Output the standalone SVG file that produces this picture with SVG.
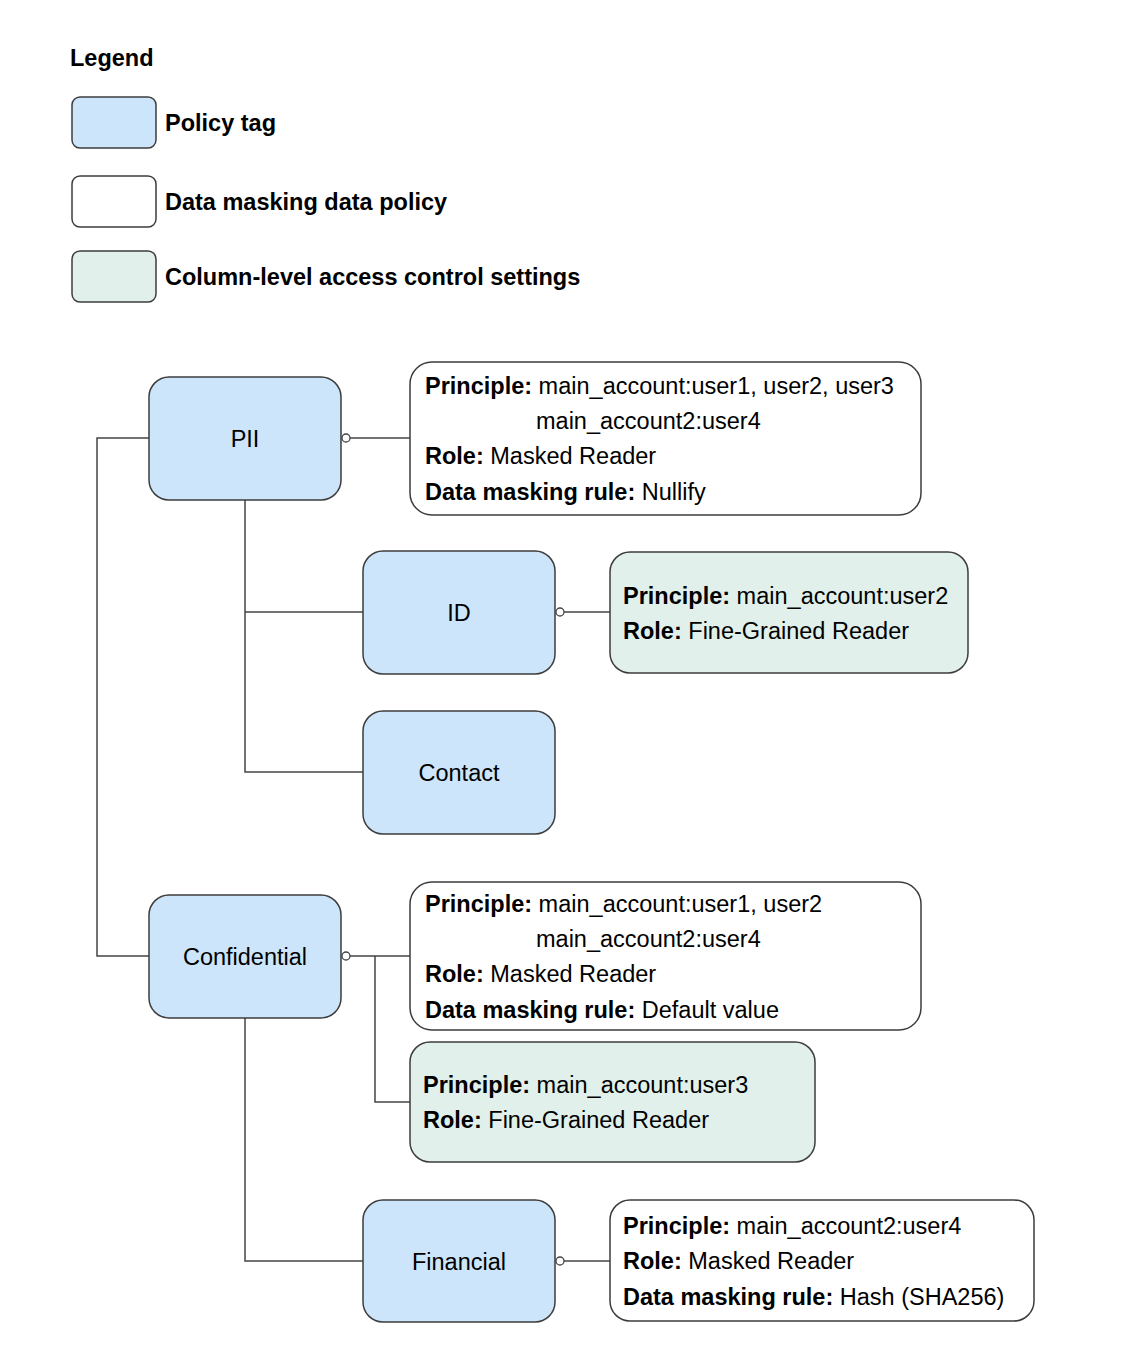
<svg xmlns="http://www.w3.org/2000/svg" width="1128" height="1370" viewBox="0 0 1128 1370">
<style>
text{font-family:"Liberation Sans",Arial,Helvetica,sans-serif;font-size:23.5px;fill:#000}
.b{font-weight:bold}
.c{text-anchor:middle}
.tag{fill:#cce5fb;stroke:#3d3d3d;stroke-width:1.5}
.pol{fill:#fff;stroke:#3d3d3d;stroke-width:1.5}
.cl{fill:#e1f0eb;stroke:#3d3d3d;stroke-width:1.5}
.ln{fill:none;stroke:#444;stroke-width:1.5}
.dot{fill:#fff;stroke:#444;stroke-width:1.3}
</style>
<rect width="1128" height="1370" fill="#fff"/>
<g id="legend">
<text class="b" x="70" y="66">Legend</text>
<rect class="tag" x="72" y="97" width="84" height="51" rx="8"/>
<text class="b" x="165" y="131">Policy tag</text>
<rect class="pol" x="72" y="176" width="84" height="51" rx="8"/>
<text class="b" x="165" y="210">Data masking data policy</text>
<rect class="cl" x="72" y="251" width="84" height="51" rx="8"/>
<text class="b" x="165" y="285">Column-level access control settings</text>
</g>
<g id="connectors">
<path class="ln" d="M149 438H97V956H149"/>
<path class="ln" d="M245 500V772H363M245 612H363"/>
<path class="ln" d="M350 438H410"/>
<path class="ln" d="M564 612H610"/>
<path class="ln" d="M350 956H410M375 956V1102H410"/>
<path class="ln" d="M245 1018V1261H363"/>
<path class="ln" d="M564 1261H610"/>
<circle class="dot" cx="346" cy="438" r="4"/>
<circle class="dot" cx="560" cy="612" r="4"/>
<circle class="dot" cx="346" cy="956" r="4"/>
<circle class="dot" cx="560" cy="1261" r="4"/>
</g>
<g id="pii">
<rect class="tag" x="149" y="377" width="192" height="123" rx="20"/>
<text class="c" x="245" y="447">PII</text>
</g>
<g id="pii-policy">
<rect class="pol" x="410" y="362" width="511" height="153" rx="22"/>
<text x="425" y="394"><tspan class="b">Principle:</tspan> main_account:user1, user2, user3</text>
<text x="536" y="429">main_account2:user4</text>
<text x="425" y="464"><tspan class="b">Role:</tspan> Masked Reader</text>
<text x="425" y="500"><tspan class="b">Data masking rule:</tspan> Nullify</text>
</g>
<g id="id">
<rect class="tag" x="363" y="551" width="192" height="123" rx="20"/>
<text class="c" x="459" y="621">ID</text>
</g>
<g id="id-acl">
<rect class="cl" x="610" y="552" width="358" height="121" rx="20"/>
<text x="623" y="604"><tspan class="b">Principle:</tspan> main_account:user2</text>
<text x="623" y="639"><tspan class="b">Role:</tspan> Fine-Grained Reader</text>
</g>
<g id="contact">
<rect class="tag" x="363" y="711" width="192" height="123" rx="20"/>
<text class="c" x="459" y="781">Contact</text>
</g>
<g id="confidential">
<rect class="tag" x="149" y="895" width="192" height="123" rx="20"/>
<text class="c" x="245" y="965">Confidential</text>
</g>
<g id="confidential-policy">
<rect class="pol" x="410" y="882" width="511" height="148" rx="22"/>
<text x="425" y="912"><tspan class="b">Principle:</tspan> main_account:user1, user2</text>
<text x="536" y="947">main_account2:user4</text>
<text x="425" y="982"><tspan class="b">Role:</tspan> Masked Reader</text>
<text x="425" y="1018"><tspan class="b">Data masking rule:</tspan> Default value</text>
</g>
<g id="confidential-acl">
<rect class="cl" x="410" y="1042" width="405" height="120" rx="20"/>
<text x="423" y="1093"><tspan class="b">Principle:</tspan> main_account:user3</text>
<text x="423" y="1128"><tspan class="b">Role:</tspan> Fine-Grained Reader</text>
</g>
<g id="financial">
<rect class="tag" x="363" y="1200" width="192" height="122" rx="20"/>
<text class="c" x="459" y="1270">Financial</text>
</g>
<g id="financial-policy">
<rect class="pol" x="610" y="1200" width="424" height="121" rx="20"/>
<text x="623" y="1234"><tspan class="b">Principle:</tspan> main_account2:user4</text>
<text x="623" y="1269"><tspan class="b">Role:</tspan> Masked Reader</text>
<text x="623" y="1305"><tspan class="b">Data masking rule:</tspan> Hash (SHA256)</text>
</g>
</svg>
